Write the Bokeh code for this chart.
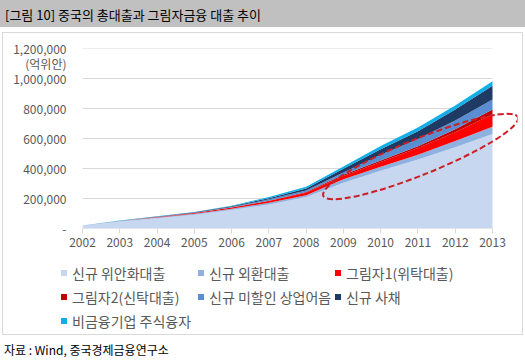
from bokeh.plotting import figure
from bokeh.models import Div, NumeralTickFormatter, FixedTicker, ColumnDataSource, Range1d
from bokeh.layouts import column
from bokeh.embed import file_html
from bokeh.resources import INLINE

# ---- data (cumulative new financing, 억위안) ----
years = [2002, 2003, 2004, 2005, 2006, 2007, 2008, 2009, 2010, 2011, 2012, 2013]
rmb_loans = [18500, 46200, 68900, 92400, 123900, 160200, 209300, 305200, 384700, 459400, 541400, 630300]
fx_loans = [700, 3000, 4400, 5800, 7300, 11200, 13100, 22400, 27300, 33000, 42200, 48000]
shadow1_entrusted = [200, 800, 3900, 5900, 8600, 12000, 16300, 23100, 31800, 44800, 57600, 83100]
shadow2_trust = [0, 0, 0, 0, 600, 1800, 4000, 7500, 10000, 11500, 20000, 32000]
bankers_accept = [0, 1300, 1000, 1000, 2500, 9200, 10300, 14900, 38200, 48500, 59000, 66800]
corp_bonds = [400, 900, 1400, 3400, 5700, 8000, 13500, 25900, 37000, 50700, 73200, 91300]
equity = [600, 1200, 1900, 2200, 3700, 8000, 11300, 14700, 20500, 24900, 27400, 29600]

series_names = ["rmb", "fx", "ent", "trust", "ba", "bond", "eq"]
labels = ["신규 위안화대출", "신규 외환대출", "그림자1(위탁대출)", "그림자2(신탁대출)",
          "신규 미할인 상업어음", "신규 사채", "비금융기업 주식융자"]
colors = ["#C6D7EF", "#8FB1E0", "#FF0000", "#C00000", "#5A8ED2", "#1F3A64", "#12AEE8"]
y_ticks = [0, 200000, 400000, 600000, 800000, 1000000, 1200000]
unit_label = "(억위안)"
unit_pos = 1100000
title_text = "[그림 10] 중국의 총대출과 그림자금융 대출 추이"
source_text = "자료 : Wind, 중국경제금융연구소"

FONT = "Noto Sans CJK KR"
GRID = "#D9D9D9"
TXT = "#595959"

src = ColumnDataSource(dict(year=years, rmb=rmb_loans, fx=fx_loans, ent=shadow1_entrusted,
                            trust=shadow2_trust, ba=bankers_accept, bond=corp_bonds, eq=equity))

x_end = years[-1] + 25 / (410 / (years[-1] - years[0]))  # room on the right for the ellipse

p = figure(frame_width=435, frame_height=180, output_backend="svg", toolbar_location=None,
           x_range=Range1d(years[0], x_end), y_range=Range1d(0, y_ticks[-1]),
           min_border_left=79, min_border_right=5, min_border_top=15, min_border_bottom=28)
p.outline_line_color = None
p.background_fill_color = "white"
p.border_fill_color = "white"
p.grid.visible = False

# horizontal gridlines spanning only the data years
p.segment(x0=years[0], x1=years[-1], y0=y_ticks, y1=y_ticks, line_color=GRID, line_width=1)

p.varea_stack(stackers=series_names, x="year", color=colors, source=src)

# dashed highlight ellipse
p.ellipse(x=[2011.07], y=[480000], width=5.63, height=240000, angle=0.384,
          fill_color=None, line_color="#CC1F24", line_dash="6 3", line_width=2)

# axes
p.xaxis.ticker = FixedTicker(ticks=years)
p.xaxis.axis_line_color = None
p.xaxis.major_tick_line_color = GRID
p.xaxis.major_tick_in = 0
p.xaxis.major_tick_out = 5
p.xaxis.minor_tick_line_color = None
p.xaxis.major_label_standoff = 4
p.xaxis.major_label_text_font = FONT
p.xaxis.major_label_text_font_size = "12px"
p.xaxis.major_label_text_color = TXT

p.yaxis.ticker = FixedTicker(ticks=y_ticks + [unit_pos])
p.yaxis.formatter = NumeralTickFormatter(format="0,0")
p.yaxis.major_label_overrides = {0: "-", unit_pos: unit_label}
p.yaxis.axis_line_color = None
p.yaxis.major_tick_line_color = None
p.yaxis.major_tick_in = 0
p.yaxis.major_tick_out = 0
p.yaxis.minor_tick_line_color = None
p.yaxis.major_label_standoff = 16
p.yaxis.major_label_text_font = FONT
p.yaxis.major_label_text_font_size = "12px"
p.yaxis.major_label_text_color = TXT

# ---- legend (HTML, flowing like the original) ----
item_html = "".join(
    f"<div style=\"display:flex;align-items:center;min-width:137px;height:24px;\">"
    f"<span style=\"display:inline-block;width:6px;height:6px;background:{c};margin-right:5px;\"></span>"
    f"<span style=\"white-space:nowrap;\">{lab}</span></div>"
    for lab, c in zip(labels, colors))
legend_div = Div(text=(f"<div style=\"display:flex;flex-wrap:wrap;width:520px;padding:5px 0 0 58px;"
                       f"box-sizing:border-box;"
                       f"font-family:'{FONT}';font-size:14px;color:{TXT};\">{item_html}</div>"),
                 width=519, height=78, margin=0)

box = column(p, legend_div, spacing=0, margin=(0, 0, 0, 2),
             styles={"border": "1px solid #D9D9D9", "background": "white"})

title = Div(text=(f"<div style=\"background:#C0C0C0;width:525px;height:27px;line-height:29px;"
                  f"padding-left:5px;box-sizing:border-box;"
                  f"font-family:'{FONT}';font-size:13px;color:#000;\">{title_text}</div>"),
            width=525, height=32, margin=0)
source = Div(text=(f"<div style=\"font-family:'{FONT}';font-size:12px;color:#000;"
                   f"padding-left:4px;line-height:30px;\">{source_text}</div>"),
             width=525, height=27, margin=0)

layout = column(title, box, source, spacing=0, margin=0)
open("out.html", "w").write(file_html(layout, INLINE))
